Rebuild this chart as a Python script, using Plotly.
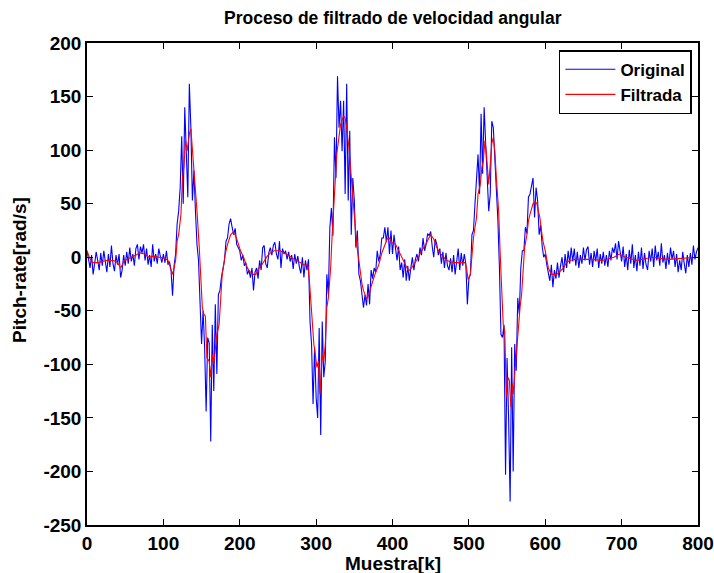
import plotly.graph_objects as go

# Original (raw) signal, sampled every 2 samples from 0 to 800
orig_k = list(range(0, 801, 2))
orig_v = [
    6, -4, -10, 2, -16, -6, 5, -3, -12, 4,
    -8, 6, -5, -14, 3, -9, 11, -6, -13, 2,
    -7, 3, -19, -12, 2, -8, 5, -6, 9, -4,
    3, -8, 8, 12, -2, 10, 4, 12, -3, 8,
    -7, 2, -9, 12, -4, 3, -6, 8, 1, -5,
    3, -5, 6, -7, -4, -12, -36, -8, 3, 31,
    43, 65, 113, 50, 140, 99, 56, 162, 121, 53,
    81, 43, 12, -3, -35, -81, -50, -84, -144, -75,
    -80, -172, -63, -125, -44, -109, -35, -31, -19, -10,
    -3, 15, 18, 31, 36, 28, 21, 27, 12, 9,
    6, -3, 2, -8, -5, -16, -12, -19, -10, -31,
    -14, -10, -20, -3, -12, 9, 11, -6, -10, 4,
    9, 2, 11, 14, 3, -2, 15, -10, 8, 3,
    6, -2, 5, -4, 2, -11, 3, -6, 1, -9,
    -15, 0, -19, -3, -12, -2, -60, -81, -137, -84,
    -131, -150, -66, -166, -60, -112, -97, -16, -35, 28,
    46, 20, 112, 74, 169, 121, 146, 99, 146, 59,
    162, 53, 118, 21, 74, 53, 9, 25, -16, -22,
    -35, -47, -35, -45, -25, -44, -12, -20, -10, -14,
    6, -4, 3, 18, 18, 28, 14, 28, 3, 25,
    3, 21, 8, -3, 10, -12, -5, -19, -2, -22,
    -8, -22, -10, 0, -12, -2, 3, -4, 9, 2,
    18, 6, 12, 22, 20, 24, 10, 0, 17, 12,
    2, 8, -6, 5, -10, 4, -8, -12, -1, -14,
    2, -16, -4, 8, -12, 4, -8, 3, -6, -44,
    -20, -16, 21, 25, 50, 78, 96, 59, 134, 78,
    140, 106, 80, 43, 59, 127, 121, 96, 68, 34,
    -10, -72, -75, -63, -203, -94, -150, -228, -84, -200,
    -81, -106, -38, -53, -10, 6, 6, 28, 22, 56,
    59, 68, 74, 37, 65, 53, 21, 30, 10, 0,
    3, -7, -16, -22, -7, -28, -12, -20, -5, -19,
    -8, 0, -14, 3, -10, 6, -6, 9, -4, 8,
    -8, 5, -10, 2, -6, 9, -3, 7, 10, -7,
    4, -9, 6, -4, 8, -10, 3, -6, 5, -8,
    2, -9, 6, -3, 9, 4, 13, -2, 15, 5,
    -4, 10, -9, 3, -12, 7, -6, 12, -10, 2,
    -13, 5, -8, 9, -11, 4, -7, -12, 6, -4,
    8, -9, 11, -3, 5, -8, 13, -5, 2, -11,
    4, -7, 9, -2, 6, -9, 3, -14, -3, -12,
    5, -6, -15, 2, -9, 4, -7, 11, -2, 5,
    9,
]

# Filtered signal (key samples)
filt_k = [0, 3, 7, 15, 25, 35, 40, 44, 49, 55, 62, 70, 75, 81, 86, 95, 102, 106, 109, 112,
          114, 116, 118, 120, 123, 125, 127, 129, 131, 134, 136, 138, 140, 142, 144, 147, 149, 151, 153, 155,
          157, 160, 162, 164, 166, 168, 170, 173, 175, 177, 179, 181, 184, 186, 188, 191, 194, 197, 201, 205,
          210, 214, 218, 221, 225, 229, 232, 236, 240, 245, 253, 258, 262, 266, 271, 275, 279, 284, 289, 291,
          293, 295, 297, 299, 301, 303, 305, 308, 310, 312, 314, 316, 318, 319, 321, 323, 325, 327, 330, 332,
          334, 336, 338, 340, 343, 345, 347, 349, 351, 353, 356, 358, 360, 362, 364, 366, 369, 371, 373, 377,
          382, 386, 390, 393, 396, 399, 404, 408, 412, 417, 421, 425, 430, 434, 438, 443, 447, 450, 454, 458,
          462, 467, 471, 480, 495, 497, 499, 502, 504, 506, 508, 510, 512, 515, 517, 519, 521, 523, 526, 528,
          530, 532, 534, 536, 539, 541, 543, 545, 547, 549, 551, 553, 555, 557, 558, 560, 562, 565, 567, 569,
          571, 573, 576, 578, 580, 582, 584, 587, 589, 591, 593, 595, 597, 600, 602, 604, 606, 608, 615, 619,
          624, 628, 632, 640, 660, 675, 690, 697, 705, 720, 740, 760, 780, 800]
filt_v = [6, 0, -5, -5, -3, -3, -5, -10, -3, -1, 1, 4, 3, 0, 1, 0, -1, -3, -10, -16,
          -10, -3, 15, 21, 40, 74, 85, 109, 99, 115, 120, 102, 85, 65, 43, 9, -22, -47, -53, -55,
          -94, -97, -112, -91, -100, -88, -72, -63, -41, -16, -7, 3, 12, 18, 21, 23, 21, 15, 6, 0,
          -10, -14, -16, -16, -10, -7, -3, 1, 4, 6, 6, 4, 3, 1, -2, -3, -5, -7, -7, -20,
          -40, -63, -81, -91, -103, -97, -128, -91, -97, -81, -47, -38, -20, -10, 21, 52, 71, 96, 115, 124,
          128, 132, 130, 121, 102, 84, 65, 46, 28, 12, -3, -16, -25, -31, -35, -39, -35, -31, -25, -16,
          -7, 4, 12, 17, 18, 14, 12, 6, 0, -8, -13, -10, -5, 0, 6, 11, 17, 21, 17, 9,
          4, 0, -3, -5, -5, -10, -21, -16, 3, 18, 28, 37, 59, 68, 84, 90, 109, 96, 68, 90,
          106, 112, 99, 74, 43, 3, -35, -63, -69, -131, -112, -115, -140, -118, -128, -109, -97, -60, -47, -35,
          -10, 9, 21, 34, 40, 46, 50, 52, 50, 43, 37, 25, 15, 6, -3, -10, -13, -16, -16, -13,
          -10, -5, -3, -2, -2, -3, 0, 3, 0, -3, 0, -2, -1, 0]

x_ticks = [0, 100, 200, 300, 400, 500, 600, 700, 800]
y_ticks = [-250, -200, -150, -100, -50, 0, 50, 100, 150, 200]

FONT = "Liberation Sans, Arial, sans-serif"

fig = go.Figure()
fig.add_trace(go.Scatter(x=orig_k, y=orig_v, mode="lines", name="Original",
                         line=dict(color="#0000FF", width=1.1)))
fig.add_trace(go.Scatter(x=filt_k, y=filt_v, mode="lines", name="Filtrada",
                         line=dict(color="#FF0000", width=1.1)))

axis_common = dict(showgrid=False, zeroline=False, showline=True, linecolor="black",
                   linewidth=1.5, mirror="ticks", ticks="inside", ticklen=6,
                   tickcolor="black", tickwidth=1, automargin=False,
                   tickfont=dict(family=FONT, size=19, color="black", weight="bold"))

fig.update_xaxes(range=[0, 800], tickvals=x_ticks, ticktext=[str(t) for t in x_ticks], **axis_common)
fig.update_yaxes(range=[-250, 200], tickvals=y_ticks, ticktext=[str(t) for t in y_ticks], **axis_common)

fig.update_layout(
    width=714, height=573,
    margin=dict(l=87, r=16, t=43, b=48),
    paper_bgcolor="white", plot_bgcolor="white",
    showlegend=True,
    legend=dict(x=0.99, y=0.985, xanchor="right", yanchor="top",
                bgcolor="white", bordercolor="black", borderwidth=1.5,
                font=dict(family=FONT, size=17, color="black", weight="bold"),
                tracegroupgap=0, itemwidth=50),
    annotations=[
        dict(text="Proceso de filtrado de velocidad angular", xref="paper", yref="paper",
             x=0.5, y=1 + 25 / 482, xanchor="center", yanchor="middle", showarrow=False,
             font=dict(family=FONT, size=17.5, color="black", weight="bold")),
        dict(text="Muestra[k]", xref="paper", yref="paper",
             x=0.5, y=-38 / 482, xanchor="center", yanchor="middle", showarrow=False,
             font=dict(family=FONT, size=19, color="black", weight="bold")),
        dict(text="Pitch-rate[rad/s]", xref="paper", yref="paper",
             x=-68 / 610, y=(525 - 270) / 482, xanchor="center", yanchor="middle",
             showarrow=False, textangle=-90,
             font=dict(family=FONT, size=19, color="black", weight="bold")),
    ],
)

fig.write_html("out.html")
